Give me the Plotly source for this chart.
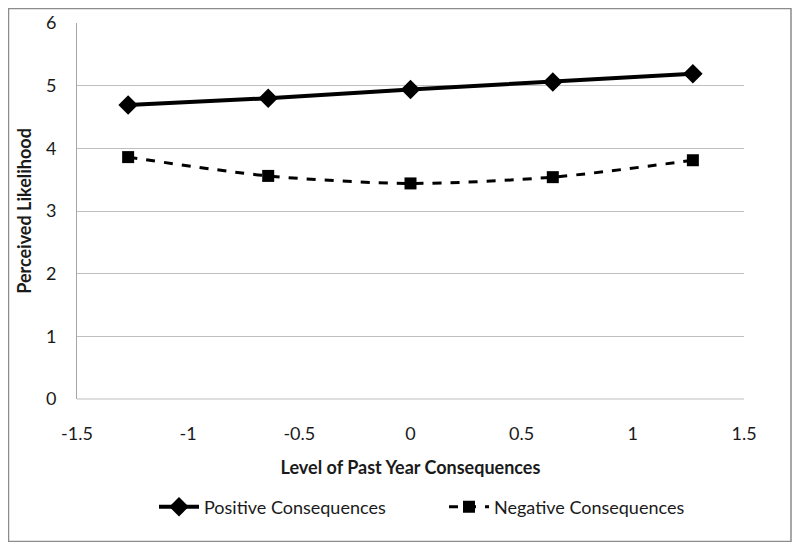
import plotly.graph_objects as go

x_levels = [-1.27, -0.64, 0.0, 0.64, 1.27]
positive = [4.69, 4.80, 4.94, 5.06, 5.19]
negative = [3.86, 3.56, 3.44, 3.54, 3.81]
series_names = ["Positive Consequences", "Negative Consequences"]
x_ticks = [-1.5, -1, -0.5, 0, 0.5, 1, 1.5]
y_ticks = [0, 1, 2, 3, 4, 5, 6]

font_family = "Lato, 'Open Sans', sans-serif"

W, H = 784, 534
L, R, T, B = 69, 48, 15, 143
pw, ph = W - L - R, H - T - B

fig = go.Figure()
fig.add_trace(go.Scatter(
    x=x_levels, y=positive, name=series_names[0], mode="lines+markers",
    line=dict(color="black", width=4),
    marker=dict(symbol="diamond", size=15, color="black"),
))
fig.add_trace(go.Scatter(
    x=x_levels, y=negative, name=series_names[1], mode="lines+markers",
    line=dict(color="black", width=3, dash="dash", shape="spline", smoothing=0.8),
    marker=dict(symbol="square", size=12, color="black"),
))

fig.update_layout(
    width=W, height=H,
    margin=dict(l=L, r=R, t=T, b=B, autoexpand=False),
    paper_bgcolor="white", plot_bgcolor="white",
    font=dict(family=font_family, size=18, color="#1a1a1a"),
    showlegend=True,
    legend=dict(orientation="h", x=(146 - L) / pw, xanchor="left",
                y=(ph - (499 - T)) / ph, yanchor="middle",
                font=dict(size=18), itemwidth=40, tracegroupgap=0,
                entrywidth=235, entrywidthmode="pixels"),
    xaxis=dict(range=[-1.5, 1.5], tickvals=x_ticks, ticktext=[str(t) for t in x_ticks],
               showgrid=False, zeroline=False, showline=False, ticks="",
               ticklabelstandoff=22, automargin=False,
               title=dict(text="<b>Level of Past Year Consequences</b>", standoff=18,
                          font=dict(size=18))),
    yaxis=dict(range=[0, 6], tickvals=y_ticks, showgrid=True, gridcolor="#bfbfbf",
               gridwidth=1, zeroline=False, showline=True, linecolor="#a6a6a6",
               ticks="", ticklabelstandoff=16, automargin=False,
               title=dict(text="<b>Perceived Likelihood</b>", standoff=9,
                          font=dict(size=18))),
    shapes=[
        dict(type="line", xref="paper", yref="paper", x0=0, x1=1, y0=0, y1=0,
             line=dict(color="#bfbfbf", width=1), layer="below"),
        dict(type="rect", xref="paper", yref="paper",
             x0=(-L + 0.5) / pw, x1=(W - L - 1) / pw,
             y0=(-B + 0.5) / ph, y1=(ph + T - 0.5) / ph,
             line=dict(color="#8c8c8c", width=1.5)),
    ],
)

fig.write_html("out.html")
